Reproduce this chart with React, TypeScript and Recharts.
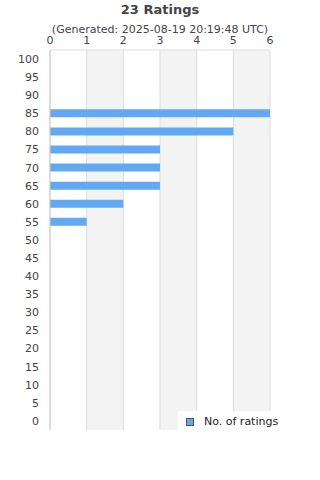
import React from 'react'
import { BarChart, Bar, XAxis, YAxis, CartesianGrid } from 'recharts'

const RATINGS = [100, 95, 90, 85, 80, 75, 70, 65, 60, 55, 50, 45, 40, 35, 30, 25, 20, 15, 10, 5, 0]
const COUNTS = [0, 0, 0, 6, 5, 3, 3, 3, 2, 1, 0, 0, 0, 0, 0, 0, 0, 0, 0, 0, 0]
const X_TICKS = [0, 1, 2, 3, 4, 5, 6]

const TITLE = '23 Ratings'
const SUBTITLE = '(Generated: 2025-08-19 20:19:48 UTC)'
const SERIES_NAME = 'No. of ratings'

const FONT = '"DejaVu Sans", sans-serif'
const TEXT = '#444444'
const BLUE = '#62a8f2'

const data = RATINGS.map((r, i) => ({ rating: String(r), count: COUNTS[i] }))

export default function App() {
  return (
    <div style={{ position: 'absolute', left: 0, top: 0, width: 320, height: 480, background: '#fff', fontFamily: FONT }}>
      <div style={{ position: 'absolute', top: 2, width: 320, textAlign: 'center', fontSize: 13, fontWeight: 'bold', color: TEXT }}>{TITLE}</div>
      <div style={{ position: 'absolute', top: 23, width: 320, textAlign: 'center', fontSize: 11, color: TEXT }}>{SUBTITLE}</div>
      <div style={{ position: 'absolute', left: 0, top: 0 }}>
        <BarChart width={320} height={480} data={data} layout="vertical" margin={{ top: 30, right: 50, bottom: 50, left: 0 }} barSize={8}>
          <CartesianGrid xAxisId="t" horizontal={false} stroke="#dddddd" verticalFill={['#ffffff', '#f3f3f3']} fillOpacity={1} />
          <XAxis xAxisId="t" type="number" orientation="top" domain={[0, 6]} ticks={X_TICKS} height={20}
            tick={{ fontSize: 11, fill: TEXT, fontFamily: FONT }} tickLine={false} tickSize={0} tickMargin={6}
            axisLine={{ stroke: '#dddddd' }} />
          <XAxis xAxisId="b" type="number" orientation="bottom" domain={[0, 6]} ticks={X_TICKS} height={0}
            tick={false} tickLine={false} axisLine={{ stroke: '#cccccc' }} />
          <YAxis type="category" dataKey="rating" width={50} interval={0}
            tick={{ fontSize: 11, fill: TEXT, fontFamily: FONT }} tickLine={false} tickSize={0} tickMargin={11}
            axisLine={{ stroke: '#cccccc' }} />
          <Bar xAxisId="t" dataKey="count" name={SERIES_NAME} fill={BLUE} isAnimationActive={false} />
        </BarChart>
      </div>
      <div style={{ position: 'absolute', left: 178, top: 411, width: 102, height: 21, background: '#fff', display: 'flex', alignItems: 'center', paddingLeft: 8, boxSizing: 'border-box', fontSize: 11, color: '#222' }}>
        <span style={{ width: 6, height: 6, background: BLUE, border: '1px solid #555', marginRight: 10 }} />
        {SERIES_NAME}
      </div>
    </div>
  )
}
